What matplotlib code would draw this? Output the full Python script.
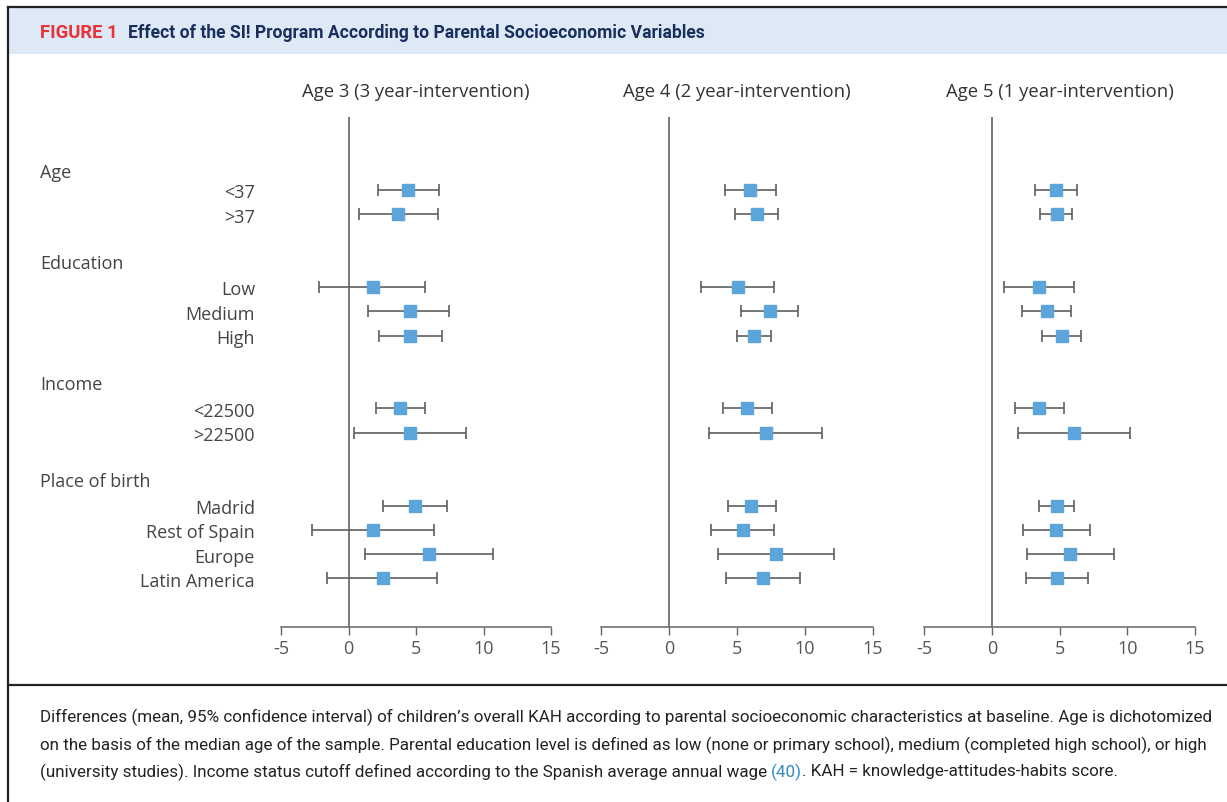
import matplotlib
matplotlib.use("Agg")
import matplotlib.pyplot as plt
from matplotlib.transforms import blended_transform_factory
from matplotlib.patches import Rectangle
from matplotlib.lines import Line2D

# rows (top to bottom) and group headers
row_labels = ["<37", ">37", "Low", "Medium", "High", "<22500", ">22500",
              "Madrid", "Rest of Spain", "Europe", "Latin America"]
row_pos = [0, 1, 4, 5, 6, 9, 10, 13, 14, 15, 16]
group_labels = ["Age", "Education", "Income", "Place of birth"]
group_pos = [-0.75, 3, 8, 12]

panel_titles = ["Age 3 (3 year-intervention)", "Age 4 (2 year-intervention)",
                "Age 5 (1 year-intervention)"]

# mean, lower and upper 95% CI per panel
mean_3 = [4.44, 3.70, 1.78, 4.52, 4.59, 3.85, 4.59, 4.89, 1.78, 5.93, 2.52]
low_3 = [2.22, 0.77, -2.19, 1.48, 2.27, 2.00, 0.44, 2.57, -2.74, 1.23, -1.56]
high_3 = [6.67, 6.62, 5.70, 7.41, 6.96, 5.65, 8.74, 7.26, 6.32, 10.70, 6.59]

mean_4 = [5.96, 6.47, 5.07, 7.43, 6.25, 5.74, 7.13, 6.03, 5.44, 7.87, 6.91]
low_4 = [4.12, 4.88, 2.35, 5.32, 4.98, 3.95, 2.94, 4.31, 3.06, 3.58, 4.19]
high_4 = [7.84, 8.01, 7.72, 9.51, 7.50, 7.55, 11.25, 7.84, 7.75, 12.10, 9.66]

mean_5 = [4.75, 4.82, 3.49, 4.08, 5.19, 3.49, 6.07, 4.82, 4.75, 5.78, 4.82]
low_5 = [3.20, 3.53, 0.88, 2.26, 3.74, 1.72, 1.94, 3.51, 2.29, 2.60, 2.53]
high_5 = [6.30, 5.95, 6.10, 5.87, 6.59, 5.34, 10.18, 6.10, 7.23, 9.03, 7.11]

means = [mean_3, mean_4, mean_5]
lows = [low_3, low_4, low_5]
highs = [high_3, high_4, high_5]

xticks = [-5, 0, 5, 10, 15]

W, H = 1227, 803
fig = plt.figure(figsize=(W / 100, H / 100), dpi=100)
plt.rcParams['font.family'] = ['Open Sans', 'DejaVu Sans']
renderer = fig.canvas.get_renderer()

def fx(px):
    return px / W

def fy(py):
    return 1 - py / H

def fit_text(x, y, s, width_px, size, **kw):
    # shrink/grow the font so the text spans roughly width_px
    t = fig.text(x, y, s, fontsize=size, **kw)
    w = t.get_window_extent(renderer).width
    t.set_fontsize(size * width_px / w)
    return t

# header band and frame
fig.patches.append(Rectangle((fx(9), fy(55)), 1, fy(9) - fy(55), transform=fig.transFigure,
                             facecolor="#dde9f5", edgecolor="none", zorder=0))
fig.lines.append(Line2D([fx(8), 1], [fy(8), fy(8)], transform=fig.transFigure, color="#222222", lw=1.6))
fig.lines.append(Line2D([fx(8), fx(8)], [0, fy(8)], transform=fig.transFigure, color="#222222", lw=1.6))
fig.lines.append(Line2D([fx(8), 1], [fy(686), fy(686)], transform=fig.transFigure, color="#222222", lw=1.6))

fit_text(fx(40), fy(33), "FIGURE 1", 78, 11, color="#e8323c", fontweight="bold",
         family=["Roboto", "DejaVu Sans"], va="center", ha="left")
fit_text(fx(128), fy(33), "Effect of the SI! Program According to Parental Socioeconomic Variables",
         577, 11, color="#1b2f5e", fontweight="bold", family=["Roboto", "DejaVu Sans"],
         va="center", ha="left")

ax_left = [281, 601, 924]
ax_right = [551, 873, 1195]
top, bottom = 118, 628
axes = []
for i in range(3):
    ax = fig.add_axes([fx(ax_left[i]), fy(bottom), fx(ax_right[i] - ax_left[i]), (bottom - top) / H])
    ax.set_xlim(-5, 15)
    ax.set_ylim(18, -3)
    for s in ["top", "right", "left"]:
        ax.spines[s].set_visible(False)
    ax.spines["bottom"].set_color("#666666")
    ax.spines["bottom"].set_linewidth(1.1)
    ax.set_yticks([])
    ax.set_xticks(xticks)
    ax.set_xticklabels([str(t) for t in xticks])
    ax.tick_params(axis="x", colors="#666666", labelcolor="#555555", labelsize=13,
                   length=6, width=1.0, pad=3)
    ax.axvline(0, color="#555555", lw=1.1, zorder=1)
    m = means[i]
    lo = [m[k] - lows[i][k] for k in range(len(m))]
    hi = [highs[i][k] - m[k] for k in range(len(m))]
    ax.errorbar(m, row_pos, xerr=[lo, hi], fmt="s", color="#5ba5da", markersize=8.6,
                ecolor="#5f5f5f", elinewidth=1.2, capsize=4, capthick=1.2, zorder=3)
    ax.set_title(panel_titles[i], fontsize=13.3, color="#333333", pad=15, fontweight="medium")
    ax.patch.set_alpha(0)
    axes.append(ax)

tr = blended_transform_factory(fig.transFigure, axes[0].transData)
for lab, p in zip(row_labels, row_pos):
    axes[0].text(fx(255), p + 0.1, lab, transform=tr, ha="right", va="center",
                 fontsize=13, color="#444444", clip_on=False)
for lab, p in zip(group_labels, group_pos):
    axes[0].text(fx(40), p, lab, transform=tr, ha="left", va="center",
                 fontsize=13, color="#444444", clip_on=False)

# caption
cap1 = ("Differences (mean, 95% confidence interval) of children\u2019s overall KAH according to parental "
        "socioeconomic characteristics at baseline. Age is dichotomized")
cap2 = ("on the basis of the median age of the sample. Parental education level is defined as low "
        "(none or primary school), medium (completed high school), or high")
cap3a = "(university studies). Income status cutoff defined according to the Spanish average annual wage "
cap3b = "(40)"
cap3c = ". KAH = knowledge-attitudes-habits score."
cap_kw = dict(color="#222222", va="center", ha="left", family=["Roboto", "DejaVu Sans"])
t0 = fit_text(fx(40), fy(717), cap1, 1165, 11, **cap_kw)
size = t0.get_fontsize()
fig.text(fx(40), fy(745), cap2, fontsize=size, **cap_kw)
t1 = fig.text(fx(40), fy(772), cap3a, fontsize=size, **cap_kw)
x1 = t1.get_window_extent(renderer).x1
t2 = fig.text(x1 / W, fy(772), cap3b, fontsize=size, **{**cap_kw, "color": "#2e8bc0"})
x2 = t2.get_window_extent(renderer).x1
fig.text(x2 / W, fy(772), cap3c, fontsize=size, **cap_kw)

fig.savefig("out.png", dpi=100)
